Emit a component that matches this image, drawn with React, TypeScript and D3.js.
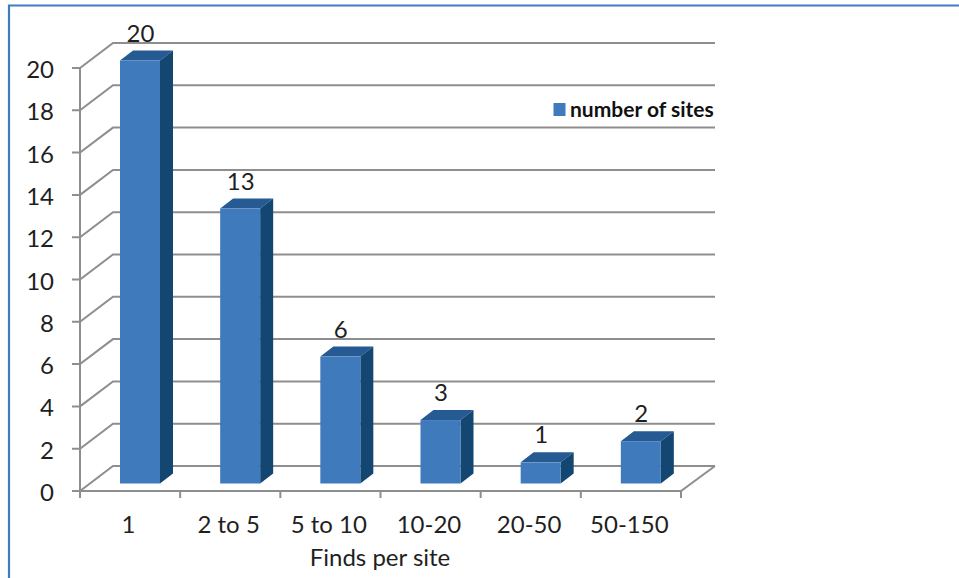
import React from "react";
import * as d3 from "d3";

const categories = ["1", "2 to 5", "5 to 10", "10-20", "20-50", "50-150"];
const siteCounts = [20, 13, 6, 3, 1, 2];
const valueTicks = [0, 2, 4, 6, 8, 10, 12, 14, 16, 18, 20];
const axisTitle = "Finds per site";
const legendLabel = "number of sites";

const WIDTH = 959;
const HEIGHT = 578;
const FONT = "Lato, 'Open Sans', sans-serif";
const GRID = "#8e8e8e";
const TEXT = "#1f1f1f";

// Oblique offset of the back wall relative to the front plane of the box.
const WALL_DX = 33;
const WALL_DY = -25;
// Oblique depth of each column.
const BAR_DX = 13;
const BAR_DY = -10;
const BAR_WIDTH = 40;
const BAR_INSET = 40;
const BAR_BASE_SHIFT = -7.5;

export default function App() {
  const x = d3.scaleBand<string>().domain(categories).range([80, 681]);
  const y = d3.scaleLinear().domain([0, 20]).range([491, 68]);
  const line = d3.line();
  const backRight = 715;

  return (
    <svg
      width={WIDTH}
      height={HEIGHT}
      viewBox={`0 0 ${WIDTH} ${HEIGHT}`}
      style={{ position: "fixed", left: 0, top: 0, background: "#fff" }}
    >
      {/* Frame around the chart area */}
      <path d={`M9 ${HEIGHT} V5.5 H${WIDTH}`} fill="none" stroke="#3f7cbf" strokeWidth={2.2} />

      {/* Side wall and back wall grid lines */}
      <g fill="none" stroke={GRID} strokeWidth={2}>
        {valueTicks.map((t) => (
          <path
            key={t}
            d={
              line([
                [72, y(t)],
                [80, y(t)],
                [80 + WALL_DX, y(t) + WALL_DY],
                [backRight, y(t) + WALL_DY],
              ]) ?? ""
            }
          />
        ))}
        {/* Vertical axis and floor edges */}
        <path d={`M80 ${y(20)} V${y(0) + 7}`} />
        <path
          d={
            line([
              [80, y(0)],
              [x.range()[1], y(0)],
              [backRight, y(0) + WALL_DY],
            ]) ?? ""
          }
        />
        {[...categories.map((c) => x(c) as number), x.range()[1]].map((px, i) =>
          i === 0 ? null : <path key={i} d={`M${px} ${y(0)} V${y(0) + 7}`} />
        )}
      </g>

      {/* Value axis labels */}
      <g fontFamily={FONT} fontSize={24} fill={TEXT} textAnchor="end">
        {valueTicks.map((t) => (
          <text key={t} x={54} y={y(t) + 10}>
            {t}
          </text>
        ))}
      </g>

      {/* Columns with top and side faces, plus their value labels */}
      {categories.map((c, i) => {
        const left = (x(c) as number) + BAR_INSET;
        const right = left + BAR_WIDTH;
        const bottom = y(0) + BAR_BASE_SHIFT;
        const top = y(siteCounts[i]) + BAR_BASE_SHIFT;
        return (
          <g key={c}>
            <path
              d={`M${left} ${top} l${BAR_DX} ${BAR_DY} h${BAR_WIDTH} l${-BAR_DX} ${-BAR_DY} Z`}
              fill="#255b92"
            />
            <path
              d={`M${right} ${top} l${BAR_DX} ${BAR_DY} V${bottom + BAR_DY} L${right} ${bottom} Z`}
              fill="#144672"
            />
            <rect x={left} y={top} width={BAR_WIDTH} height={bottom - top} fill="#3f7abd" />
            <text
              x={left + 20.5}
              y={top + BAR_DY - 9}
              textAnchor="middle"
              fontFamily={FONT}
              fontSize={24}
              fill={TEXT}
            >
              {siteCounts[i]}
            </text>
          </g>
        );
      })}

      {/* Category labels */}
      <g fontFamily={FONT} fontSize={24} fill={TEXT} textAnchor="middle">
        {categories.map((c) => (
          <text key={c} x={(x(c) as number) + 48.5} y={533}>
            {c}
          </text>
        ))}
      </g>

      <text x={380} y={566} textAnchor="middle" fontFamily={FONT} fontSize={24} fill={TEXT}>
        {axisTitle}
      </text>

      {/* Legend */}
      <rect x={553.5} y={103} width={12} height={13} fill="#3f7abd" />
      <text x={570} y={117} fontFamily={FONT} fontSize={21} fontWeight={700} fill="#111">
        {legendLabel}
      </text>
    </svg>
  );
}
